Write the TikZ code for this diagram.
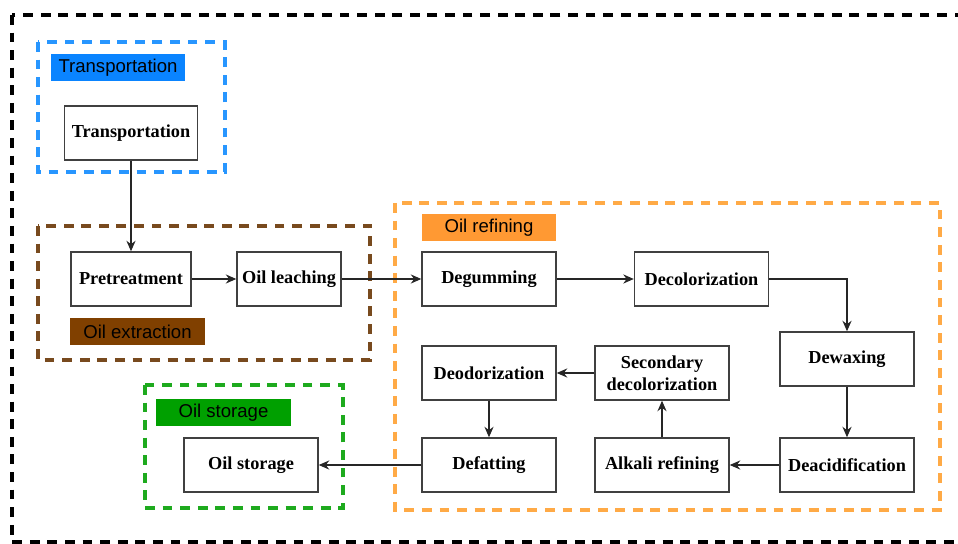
\documentclass[tikz,border=0pt]{standalone}
\usepackage{fontspec}
\setmainfont{Liberation Serif}
\setsansfont{Liberation Sans}
\usepackage{xcolor}
\definecolor{tpblue}{RGB}{10,132,255}
\definecolor{tpframe}{RGB}{40,150,255}
\definecolor{exbrown}{RGB}{128,64,0}
\definecolor{exframe}{RGB}{120,74,30}
\definecolor{rforange}{RGB}{255,153,51}
\definecolor{rfframe}{RGB}{255,170,70}
\definecolor{stgreen}{RGB}{0,160,0}
\definecolor{stframe}{RGB}{30,170,30}
\usepackage{tikz}
\usetikzlibrary{arrows.meta, positioning}

\begin{document}
\begin{tikzpicture}[x=0.025cm, y=-0.025cm,
  stepbox/.style={rectangle, draw=black!75, line width=1pt, fill=white,
                  minimum width=#1, minimum height=1.35cm, align=center,
                  font=\fontsize{13}{15.5}\selectfont\bfseries},
  stepbox/.default=3.35cm,
  grp/.style={draw=#1, line width=2.6pt, dash pattern=on 7pt off 5.5pt},
  grplbl/.style={rectangle, fill=#1, minimum width=3.35cm, minimum height=0.68cm,
                 inner sep=0pt, font=\sffamily\fontsize{13.2}{14}\selectfont},
  flow/.style={-{Stealth[length=7.5pt,width=6.5pt]}, line width=0.9pt, draw=black!85}
]
\useasboundingbox (0,0) rectangle (958,544);
% outer frame
\draw[grp=black] (12,15) rectangle (972,542);

% group frames
\draw[grp=tpframe] (38,42) rectangle (225,172);
\draw[grp=exframe] (38,226) rectangle (370,360);
\draw[grp=rfframe] (395,203) rectangle (940,510);
\draw[grp=stframe] (145,385) rectangle (343,508);

% group labels
\node[grplbl=tpblue] (tplbl) at (118,67.5) {Transportation};
\node[grplbl=exbrown] (exlbl) at (137.5,331.5) {Oil extraction};
\node[grplbl=rforange] (rflbl) at (489,227.5) {Oil refining};
\node[grplbl=stgreen] (stlbl) at (223.5,412.5) {Oil storage};

% steps
\node[stepbox=3.33cm] (trans) at (131,133) {Transportation};
\node[stepbox=3.0cm] (pre) at (131,279) {Pretreatment};
\node[stepbox=2.6cm] (leach) at (289,279) {Oil leaching};
\node[stepbox] (degum) at (489,279) {Degumming};
\node[stepbox] (decol) at (701.5,279) {Decolorization};
\node[stepbox] (dewax) at (847,359) {Dewaxing};
\node[stepbox] (deacid) at (847,465) {Deacidification};
\node[stepbox] (alkali) at (662,465) {Alkali refining};
\node[stepbox] (secdec) at (662,373) {Secondary\\decolorization};
\node[stepbox] (deodor) at (489,373) {Deodorization};
\node[stepbox] (defat) at (489,465) {Defatting};
\node[stepbox] (store) at (251,465) {Oil storage};

% connectors
\draw[flow] (trans) -- (pre);
\draw[flow] (pre) -- (leach);
\draw[flow] (leach) -- (degum);
\draw[flow] (degum) -- (decol);
\draw[flow] (decol.east) -| (dewax.north);
\draw[flow] (dewax) -- (deacid);
\draw[flow] (deacid) -- (alkali);
\draw[flow] (alkali) -- (secdec);
\draw[flow] (secdec) -- (deodor);
\draw[flow] (deodor) -- (defat);
\draw[flow] (defat) -- (store);
\end{tikzpicture}
\end{document}
